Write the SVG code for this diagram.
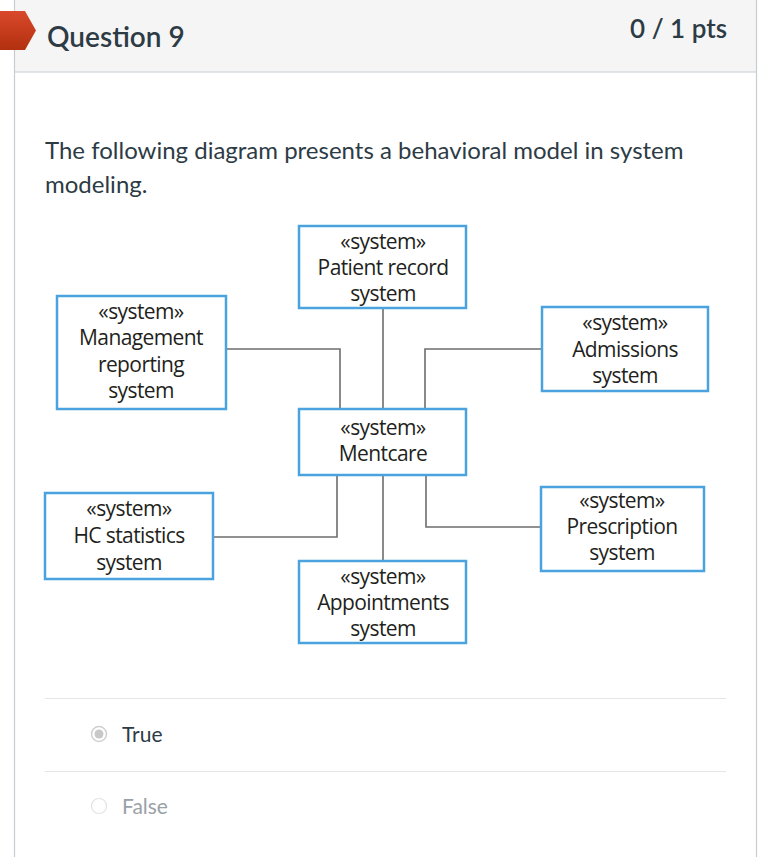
<svg xmlns="http://www.w3.org/2000/svg" width="770" height="857" viewBox="0 0 770 857">
<style>
.page{font-family:Lato,"Open Sans",sans-serif;fill:#2d3b45}
.box{fill:#fff;stroke:#4aa3df;stroke-width:2.5}
.lbl{font-family:"Open Sans","Noto Sans",sans-serif;font-size:21px;fill:#231f20;text-anchor:middle;letter-spacing:-0.6px}
.con{fill:none;stroke:#6d6d6d;stroke-width:1.6}
.sep{stroke:#e6e6e6;stroke-width:1.2}
</style>
<rect x="0" y="0" width="770" height="857" fill="#fff"/>
<rect x="15" y="0" width="741" height="72" fill="#f5f5f5"/>
<line x1="14.5" y1="0" x2="14.5" y2="857" stroke="#c7cdd1" stroke-width="1.2"/>
<line x1="756.5" y1="0" x2="756.5" y2="857" stroke="#c7cdd1" stroke-width="1.2"/>
<line x1="15" y1="72" x2="756" y2="72" stroke="#c7cdd1" stroke-width="1.2"/>
<defs><linearGradient id="fg" x1="0" y1="0" x2="0" y2="1"><stop offset="0" stop-color="#d9492b"/><stop offset="1" stop-color="#b2300f"/></linearGradient></defs>
<polygon points="0,11 25,11 36,30.5 25,50 0,50" fill="url(#fg)"/>
<text class="page" x="47" y="47" font-size="28" font-weight="600">Question 9</text>
<text class="page" x="727" y="38" font-size="26" text-anchor="end" font-weight="600">0 / 1 pts</text>
<text class="page" x="45" y="159" font-size="24">The following diagram presents a behavioral model in system</text>
<text class="page" x="45" y="193" font-size="24">modeling.</text>

<g id="connectors">
<polyline class="con" points="226,349 340,349 340,409"/>
<line class="con" x1="383" y1="308" x2="383" y2="409"/>
<polyline class="con" points="542,349 425,349 425,409"/>
<polyline class="con" points="213,537 337,537 337,475"/>
<line class="con" x1="383" y1="475" x2="383" y2="561"/>
<polyline class="con" points="541,527 426,527 426,475"/>
</g>

<g id="patient-record">
<rect class="box" x="299" y="226" width="167" height="82"/>
<text class="lbl" x="383" y="249">«system»</text>
<text class="lbl" x="383" y="275">Patient record</text>
<text class="lbl" x="383" y="301">system</text>
</g>
<g id="management-reporting">
<rect class="box" x="57" y="296" width="169" height="113"/>
<text class="lbl" x="141" y="319">«system»</text>
<text class="lbl" x="141" y="345">Management</text>
<text class="lbl" x="141" y="372">reporting</text>
<text class="lbl" x="141" y="398">system</text>
</g>
<g id="admissions">
<rect class="box" x="542" y="307" width="166" height="84"/>
<text class="lbl" x="625" y="330">«system»</text>
<text class="lbl" x="625" y="357">Admissions</text>
<text class="lbl" x="625" y="383">system</text>
</g>
<g id="mentcare">
<rect class="box" x="299" y="409" width="167" height="66"/>
<text class="lbl" x="383" y="435">«system»</text>
<text class="lbl" x="383" y="461">Mentcare</text>
</g>
<g id="hc-statistics">
<rect class="box" x="45" y="493" width="168" height="86"/>
<text class="lbl" x="129" y="516">«system»</text>
<text class="lbl" x="129" y="543">HC statistics</text>
<text class="lbl" x="129" y="570">system</text>
</g>
<g id="prescription">
<rect class="box" x="541" y="487" width="163" height="84"/>
<text class="lbl" x="622" y="508">«system»</text>
<text class="lbl" x="622" y="534">Prescription</text>
<text class="lbl" x="622" y="560">system</text>
</g>
<g id="appointments">
<rect class="box" x="299" y="561" width="167" height="82"/>
<text class="lbl" x="383" y="584">«system»</text>
<text class="lbl" x="383" y="610">Appointments</text>
<text class="lbl" x="383" y="636">system</text>
</g>

<line class="sep" x1="45" y1="698.5" x2="726" y2="698.5"/>
<line class="sep" x1="45" y1="771.5" x2="726" y2="771.5"/>
<circle cx="99" cy="734" r="7.5" fill="#fff" stroke="#d0d0d0" stroke-width="1.5"/>
<circle cx="99" cy="734" r="4.5" fill="#c8c8c8"/>
<text class="page" x="122" y="742" font-size="21">True</text>
<circle cx="99" cy="806" r="7.5" fill="#fff" stroke="#e2e2e2" stroke-width="1.2"/>
<text x="122" y="814" font-size="21" font-family="Lato,sans-serif" fill="#9aa1a7">False</text>
</svg>
